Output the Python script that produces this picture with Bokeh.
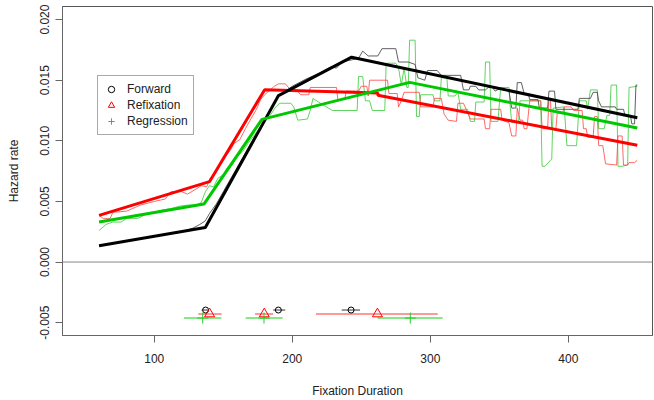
from bokeh.plotting import figure
from bokeh.models import (Range1d, FixedTicker, NumeralTickFormatter, Span, Legend, LegendItem)
from bokeh.embed import file_html
from bokeh.resources import INLINE

# ---- fitted piecewise-linear hazard curves ----
fwd_fit_x = [60, 137, 190, 243, 450]
fwd_fit_y = [0.00134, 0.00285, 0.01373, 0.01690, 0.01190]
ref_fit_x = [60, 140, 180, 262, 262, 450]
ref_fit_y = [0.00385, 0.00663, 0.01422, 0.01395, 0.01376, 0.00964]
reg_fit_x = [60, 136, 178, 285, 450]
reg_fit_y = [0.00331, 0.00478, 0.01177, 0.01482, 0.01106]

# ---- empirical (noisy) hazard curves ----
fwd_x = [60, 80, 100, 120, 128, 133, 137, 140, 145, 150, 160, 170, 180, 190, 200, 210, 220, 228, 232, 236,
         240, 244, 248, 251, 255, 262, 265, 275, 277, 284, 289, 291, 296, 298, 305, 308, 322, 324, 328, 329,
         333, 335, 340, 342, 345, 347, 350, 357, 359, 362, 363, 366, 368, 371, 372, 378, 379, 385, 386, 390,
         391, 407, 408, 416, 418, 421, 422, 424, 434, 435, 440, 441, 445, 446, 448, 449, 450]
fwd_y = [0.00134, 0.00172, 0.0021, 0.0025, 0.0028, 0.0031, 0.0034, 0.0040, 0.0048, 0.0058, 0.0078, 0.0098,
         0.0117, 0.0137, 0.0145, 0.0151, 0.0156, 0.0161, 0.0160, 0.0165, 0.0166, 0.0167, 0.0168, 0.0174,
         0.0170, 0.0170, 0.0176, 0.0176, 0.0165, 0.0165, 0.0163, 0.0152, 0.0150, 0.0158, 0.0158, 0.0154,
         0.0154, 0.0142, 0.0142, 0.0145, 0.0145, 0.0142, 0.0142, 0.0144, 0.0144, 0.0141, 0.0143, 0.0141,
         0.0127, 0.0127, 0.0148, 0.0148, 0.0139, 0.0139, 0.0134, 0.0134, 0.0127, 0.0127, 0.0141, 0.0141,
         0.0126, 0.0126, 0.0135, 0.0135, 0.0140, 0.0140, 0.0133, 0.0128, 0.0128, 0.0126, 0.0126, 0.0121,
         0.0121, 0.0114, 0.0114, 0.0146, 0.0146]

ref_x = [60, 63, 68, 70, 80, 90, 100, 108, 112, 120, 124, 130, 134, 138, 140, 145, 150, 155, 158, 162, 166,
         170, 174, 177, 180, 183, 187, 190, 195, 198, 203, 206, 212, 213, 232, 233, 238, 239, 248, 250, 254,
         255, 256, 269, 270, 276, 277, 279, 281, 292, 293, 302, 303, 308, 310, 313, 319, 320, 324, 326, 329,
         339, 340, 343, 344, 351, 352, 357, 359, 362, 363, 365, 367, 368, 370, 372, 380, 381, 385, 386, 387,
         388, 391, 392, 396, 397, 402, 404, 410, 411, 413, 414, 418, 419, 421, 422, 425, 427, 435, 436, 439,
         440, 443, 444, 448, 450]
ref_y = [0.00385, 0.0036, 0.0036, 0.0041, 0.0042, 0.0047, 0.0050, 0.0052, 0.0058, 0.0058, 0.0056, 0.0060,
         0.0063, 0.0062, 0.0068, 0.0076, 0.0085, 0.0092, 0.0098, 0.0101, 0.0110, 0.0118, 0.0126, 0.0134,
         0.0138, 0.0141, 0.0145, 0.0147, 0.0147, 0.0143, 0.0142, 0.0138, 0.0138, 0.0144, 0.0144, 0.0134,
         0.0134, 0.0141, 0.0141, 0.0145, 0.0145, 0.0137, 0.0150, 0.0150, 0.0139, 0.0139, 0.0128, 0.0133,
         0.0140, 0.0140, 0.0128, 0.0128, 0.0135, 0.0135, 0.0122, 0.0117, 0.0116, 0.0131, 0.0131, 0.0126,
         0.0118, 0.0118, 0.0110, 0.0110, 0.0126, 0.0126, 0.0117, 0.0115, 0.0104, 0.0104, 0.0127, 0.0117,
         0.0117, 0.0110, 0.0110, 0.0133, 0.0133, 0.0110, 0.0110, 0.0135, 0.0135, 0.0110, 0.0110, 0.0123,
         0.0123, 0.0128, 0.0128, 0.0125, 0.0125, 0.0110, 0.0110, 0.0103, 0.0103, 0.0120, 0.0120, 0.0096,
         0.0096, 0.0081, 0.0080, 0.0104, 0.0104, 0.0080, 0.0080, 0.0082, 0.0082, 0.0084]

reg_x = [60, 62, 65, 70, 76, 80, 88, 95, 100, 106, 112, 118, 124, 130, 134, 137, 140, 143, 146, 150, 153,
         156, 160, 164, 168, 172, 176, 180, 184, 188, 191, 199, 201, 204, 211, 213, 215, 219, 229, 247, 248,
         251, 253, 256, 258, 267, 268, 275, 277, 279, 281, 283, 284, 285, 289, 290, 292, 293, 302, 303, 307,
         308, 312, 313, 318, 320, 322, 327, 329, 332, 333, 339, 340, 343, 344, 349, 351, 357, 358, 359, 364,
         365, 380, 381, 383, 388, 389, 397, 399, 406, 408, 413, 414, 416, 421, 422, 426, 428, 430, 431, 435,
         436, 439, 443, 444, 450]
reg_y = [0.0026, 0.0028, 0.0031, 0.0033, 0.0033, 0.0036, 0.0036, 0.0040, 0.0041, 0.0043, 0.0044, 0.0046,
         0.0047, 0.0047, 0.0049, 0.0058, 0.0063, 0.0062, 0.0069, 0.0072, 0.0078, 0.0080, 0.0087, 0.0091,
         0.0098, 0.0104, 0.0110, 0.0116, 0.0121, 0.0128, 0.0131, 0.0131, 0.0128, 0.0117, 0.0118, 0.0125,
         0.0135, 0.0132, 0.0125, 0.0125, 0.0153, 0.0153, 0.0133, 0.0133, 0.0125, 0.0125, 0.0164, 0.0164,
         0.0160, 0.0146, 0.0160, 0.0144, 0.0144, 0.0183, 0.0183, 0.0120, 0.0120, 0.0138, 0.0138, 0.0133,
         0.0133, 0.0152, 0.0152, 0.0137, 0.0137, 0.0140, 0.0126, 0.0126, 0.0116, 0.0116, 0.0132, 0.0132,
         0.0165, 0.0165, 0.0116, 0.0116, 0.0144, 0.0144, 0.0127, 0.0115, 0.0115, 0.0133, 0.0133, 0.0079,
         0.0079, 0.0085, 0.0127, 0.0128, 0.0096, 0.0096, 0.0133, 0.0133, 0.0126, 0.0142, 0.0142, 0.0110,
         0.0110, 0.0121, 0.0121, 0.0146, 0.0146, 0.0079, 0.0079, 0.0080, 0.0144, 0.0145]

# ---- breakpoint estimates with intervals (bottom panel) ----
fwd_bp = [137.2, 189.9, 242.6]
fwd_lo = [134.3, 186.2, 235.8]
fwd_hi = [139.6, 194.9, 249.1]
ref_bp = [140.1, 179.7, 261.7]
ref_lo = [131.9, 173.0, 217.2]
ref_hi = [148.8, 186.2, 305.4]
reg_bp = [135.1, 179.5, 285.5]
reg_lo = [121.5, 166.2, 261.7]
reg_hi = [148.6, 193.0, 309.0]
bp_rows = [-0.00396, -0.00428, -0.00462]

series = ["Forward", "Refixation", "Regression"]
x_ticks = [100, 200, 300, 400]
y_ticks = [-0.005, 0.0, 0.005, 0.010, 0.015, 0.020]

FONT = "Liberation Sans"

p = figure(width=654, height=400, output_backend="svg", toolbar_location=None,
           x_range=Range1d(33.5, 461.0), y_range=Range1d(-0.00606, 0.02108),
           min_border_left=62, min_border_right=2, min_border_top=6, min_border_bottom=62)
p.grid.visible = False
p.outline_line_color = "#555555"
p.outline_line_width = 1
p.background_fill_color = "white"
p.border_fill_color = "white"

# axes
p.xaxis.ticker = FixedTicker(ticks=x_ticks)
p.yaxis.ticker = FixedTicker(ticks=y_ticks)
p.yaxis.formatter = NumeralTickFormatter(format="0.000")
p.yaxis.major_label_orientation = "vertical"
for ax in (p.xaxis[0], p.yaxis[0]):
    ax.axis_line_color = "#666666"
    ax.major_tick_line_color = "#666666"
    ax.major_tick_in = 0
    ax.major_tick_out = 7
    ax.minor_tick_line_color = None
    ax.major_label_text_font = FONT
    ax.major_label_text_font_size = "12px"
    ax.major_label_text_color = "#222222"
    ax.axis_label_text_font = FONT
    ax.axis_label_text_font_size = "12px"
    ax.axis_label_text_font_style = "normal"
    ax.axis_label_text_color = "#222222"
    ax.major_label_text_line_height = 1.0
    ax.axis_label_text_line_height = 1.0
p.xaxis.axis_label = "Fixation Duration"
p.yaxis.axis_label = "Hazard rate"
p.xaxis.major_label_standoff = 11
p.xaxis.axis_label_standoff = 18
p.yaxis.major_label_standoff = 6
p.yaxis.axis_label_standoff = 17

p.add_layout(Span(location=0, dimension="width", line_color="#888888", line_width=1))

# noisy curves
p.line(reg_x, reg_y, line_color="#44cc44", line_width=1, line_alpha=0.85)
p.line(ref_x, ref_y, line_color="#ff4444", line_width=1, line_alpha=0.8)
p.line(fwd_x, fwd_y, line_color="#444444", line_width=1, line_alpha=0.85)

# fitted curves
p.line(ref_fit_x, ref_fit_y, line_color="#ff0000", line_width=3)
p.line(fwd_fit_x, fwd_fit_y, line_color="#000000", line_width=3)
p.line(reg_fit_x, reg_fit_y, line_color="#00c800", line_width=3)

# breakpoint intervals
p.segment(x0=ref_lo, x1=ref_hi, y0=[bp_rows[1]] * 3, y1=[bp_rows[1]] * 3, line_color="#ff9999", line_width=2)
p.segment(x0=reg_lo, x1=reg_hi, y0=[bp_rows[2]] * 3, y1=[bp_rows[2]] * 3, line_color="#88e888", line_width=2)
p.segment(x0=fwd_lo, x1=fwd_hi, y0=[bp_rows[0]] * 3, y1=[bp_rows[0]] * 3, line_color="#333333", line_width=1)

r_f = p.scatter(fwd_bp, [bp_rows[0]] * 3, marker="circle", size=6, fill_color=None,
                line_color="#000000", line_width=1)
r_r = p.scatter(ref_bp, [bp_rows[1]] * 3, marker="triangle", size=10, fill_color=None,
                line_color="#ff0000", line_width=1)
r_g = p.scatter(reg_bp, [bp_rows[2]] * 3, marker="cross", size=11,
                line_color="#22cc22", line_width=1)

legend = Legend(items=[LegendItem(label=series[0], renderers=[r_f]),
                       LegendItem(label=series[1], renderers=[r_r]),
                       LegendItem(label=series[2], renderers=[r_g])],
                location=(35, 200), orientation="vertical",
                padding=5, spacing=0, margin=0,
                glyph_width=16, glyph_height=16, label_height=16, label_standoff=8,
                label_text_font=FONT, label_text_font_size="12px", label_text_color="#222222",
                border_line_color="#555555", border_line_width=1,
                background_fill_color="white", background_fill_alpha=1.0)
p.add_layout(legend, "center")

open("out.html", "w").write(file_html(p, INLINE))
